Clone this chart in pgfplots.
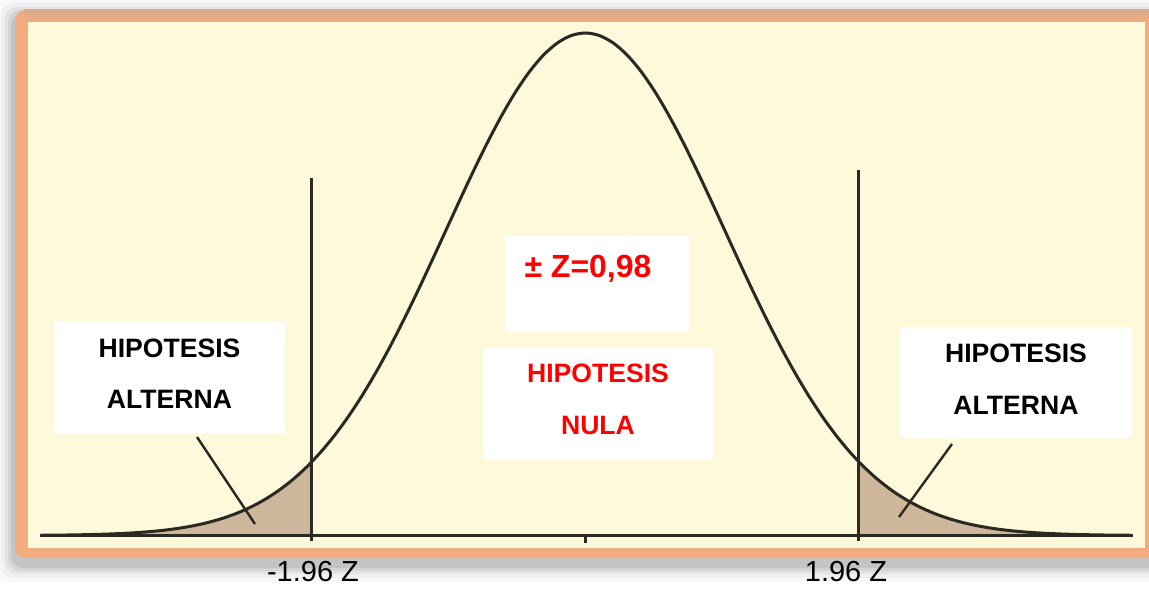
\documentclass[border=0pt]{standalone}
\usepackage{pgfplots}
\pgfplotsset{compat=1.18}
\usepackage{pgfplotstable}
\usepackage{fontspec}
\setmainfont{Liberation Sans}
\definecolor{cream}{HTML}{FFF9DB}
\definecolor{frameorange}{HTML}{F2AC7E}
\definecolor{frametop}{HTML}{D9A98A}
\definecolor{tailtan}{HTML}{CDB699}
\definecolor{curveink}{HTML}{2A2A22}
\definecolor{hred}{HTML}{FF0000}

\pgfplotstableread{
z y
-3.9 0.00050
-3.8 0.00073
-3.7 0.00106
-3.6 0.00154
-3.5 0.00219
-3.4 0.00309
-3.3 0.00432
-3.2 0.00598
-3.1 0.00819
-3.0 0.01111
-2.9 0.01492
-2.8 0.01984
-2.7 0.02612
-2.6 0.03405
-2.5 0.04394
-2.4 0.05613
-2.3 0.07100
-2.2 0.08892
-2.1 0.11025
-2.0 0.13534
-1.9 0.16448
-1.8 0.19790
-1.7 0.23574
-1.6 0.27804
-1.5 0.32465
-1.4 0.37531
-1.3 0.42956
-1.2 0.48675
-1.1 0.54607
-1.0 0.60653
-0.9 0.66698
-0.8 0.72615
-0.7 0.78270
-0.6 0.83527
-0.5 0.88250
-0.4 0.92312
-0.3 0.95600
-0.2 0.98020
-0.1 0.99501
0.0 1.00000
0.1 0.99501
0.2 0.98020
0.3 0.95600
0.4 0.92312
0.5 0.88250
0.6 0.83527
0.7 0.78270
0.8 0.72615
0.9 0.66698
1.0 0.60653
1.1 0.54607
1.2 0.48675
1.3 0.42956
1.4 0.37531
1.5 0.32465
1.6 0.27804
1.7 0.23574
1.8 0.19790
1.9 0.16448
2.0 0.13534
2.1 0.11025
2.2 0.08892
2.3 0.07100
2.4 0.05613
2.5 0.04394
2.6 0.03405
2.7 0.02612
2.8 0.01984
2.9 0.01492
3.0 0.01111
3.1 0.00819
3.2 0.00598
3.3 0.00432
3.4 0.00309
3.5 0.00219
3.6 0.00154
3.7 0.00106
3.8 0.00073
3.9 0.00050
}\curve

\begin{document}
\begin{tikzpicture}
\begin{scope}[x=0.5pt,y=-0.5pt]
\useasboundingbox (0,0) rectangle (1149,588);
\fill[white] (0,0) rectangle (1149,588);
% shadow
\foreach \i/\o in {18/0.025,14/0.035,10/0.05,7/0.06,4/0.08}{
  \fill[black,opacity=\o,rounded corners=6pt] (15-\i,10-\i+7) rectangle (1170+\i,558+\i+6);
}
% frame
\fill[frameorange,rounded corners=5pt] (15,10) rectangle (1170,558);
\shade[top color=frametop,bottom color=frameorange] (24,10) rectangle (1160,22);
\fill[cream] (28,22) rectangle (1145,548);
\end{scope}

\begin{axis}[at={(0,0)},anchor=north west,scale only axis,
  width=574.5pt,height=294pt,
  xmin=-4.193,xmax=4.038,ymin=-0.10448,ymax=1.06567,
  hide axis,clip=false]
% tails
\addplot[fill=tailtan,draw=none] coordinates {
(-3.9,0) (-3.9,0.00050) (-3.8,0.00073) (-3.7,0.00106) (-3.6,0.00154) (-3.5,0.00219)
(-3.4,0.00309) (-3.3,0.00432) (-3.2,0.00598) (-3.1,0.00819) (-3.0,0.01111)
(-2.9,0.01492) (-2.8,0.01984) (-2.7,0.02612) (-2.6,0.03405) (-2.5,0.04394)
(-2.4,0.05613) (-2.3,0.07100) (-2.2,0.08892) (-2.1,0.11025) (-2.0,0.13534)
(-1.96,0.14645) (-1.96,0)};
\addplot[fill=tailtan,draw=none] coordinates {
(1.96,0) (1.96,0.14645) (2.0,0.13534) (2.1,0.11025) (2.2,0.08892) (2.3,0.07100)
(2.4,0.05613) (2.5,0.04394) (2.6,0.03405) (2.7,0.02612) (2.8,0.01984)
(2.9,0.01492) (3.0,0.01111) (3.1,0.00819) (3.2,0.00598) (3.3,0.00432)
(3.4,0.00309) (3.5,0.00219) (3.6,0.00154) (3.7,0.00106) (3.8,0.00073)
(3.9,0.00050) (3.9,0)};
% baseline
\addplot[curveink,line width=1.4pt] coordinates {(-3.91,0) (3.92,0)};
% curve
\addplot[curveink,line width=1.5pt,smooth] table {\curve};
% critical lines
\addplot[curveink,line width=1.5pt] coordinates {(-1.96,-0.011) (-1.96,0.711)};
\addplot[curveink,line width=1.5pt] coordinates {(1.96,-0.011) (1.96,0.727)};
\addplot[curveink,line width=1.5pt] coordinates {(0,0) (0,-0.015)};
\end{axis}

\begin{scope}[x=0.5pt,y=-0.5pt]
% pointers
\draw[curveink,line width=1.2pt] (197,437) -- (255,524);
\draw[curveink,line width=1.2pt] (952,444) -- (899,517);
% boxes
\fill[white] (54,322) rectangle (285,433);
\fill[white] (505,236) rectangle (689,332);
\fill[white] (483,347) rectangle (713,459);
\fill[white] (900,327) rectangle (1132,438);
\tikzset{bt/.style={anchor=base,inner sep=0pt,font=\bfseries\fontsize{13.3}{16}\selectfont}}
\node[bt] at (169.5,357) {HIPOTESIS};
\node[bt] at (169.5,408) {ALTERNA};
\node[bt,text=hred] at (598,382) {HIPOTESIS};
\node[bt,text=hred] at (598,434) {NULA};
\node[bt] at (1016,362) {HIPOTESIS};
\node[bt] at (1016,414) {ALTERNA};
\node[anchor=base,inner sep=0pt,text=hred,font=\bfseries\fontsize{16}{19}\selectfont] at (588,277) {± Z=0,98};
% labels
\node[anchor=base,inner sep=0pt,font=\fontsize{14.5}{17}\selectfont] at (313,581) {-1.96 Z};
\node[anchor=base,inner sep=0pt,font=\fontsize{14.5}{17}\selectfont] at (846,581) {1.96 Z};
\end{scope}
\end{tikzpicture}
\end{document}
